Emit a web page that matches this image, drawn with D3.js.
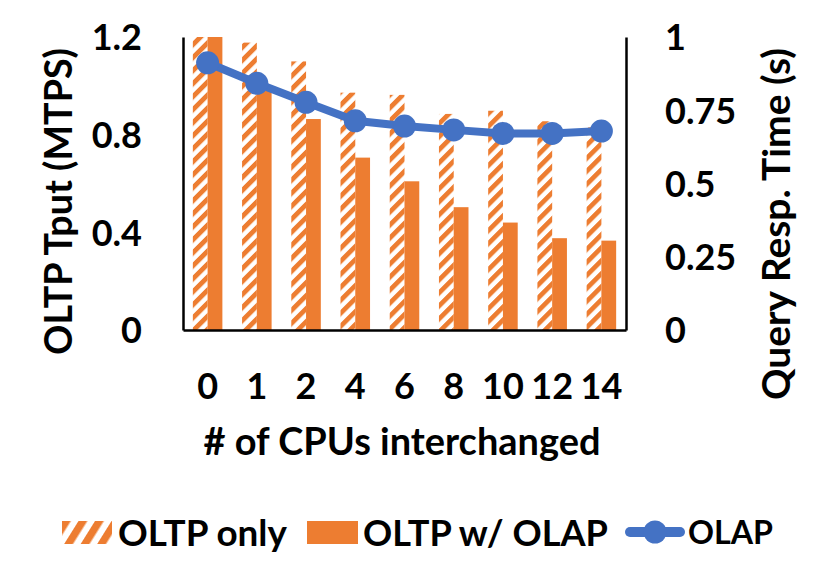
<!DOCTYPE html>
<html>
<head>
<meta charset="utf-8">
<script src="https://cdn.jsdelivr.net/npm/d3@7"></script>
<style>
  html, body { margin: 0; padding: 0; background: #fff; }
  svg { display: block; }
  text { font-family: Lato, "Open Sans", "DejaVu Sans", sans-serif; font-weight: 700; fill: #000; }
</style>
</head>
<body>
<svg id="chart" width="830" height="581"></svg>
<script>
// ---- data ----
const categories = ["0", "1", "2", "4", "6", "8", "10", "12", "14"];
const oltpOnly   = [1.2, 1.177, 1.10, 0.972, 0.963, 0.885, 0.898, 0.855, 0.83];
const oltpWOlap  = [1.2, 0.98, 0.864, 0.706, 0.609, 0.503, 0.44, 0.376, 0.366];
const olap       = [0.912, 0.842, 0.777, 0.714, 0.696, 0.683, 0.671, 0.671, 0.679];
const leftTicks  = [0, 0.4, 0.8, 1.2];
const rightTicks = [0, 0.25, 0.5, 0.75, 1];
const seriesNames = ["OLTP only", "OLTP w/ OLAP", "OLAP"];

const ORANGE = "#ED7D31", BLUE = "#4472C4";

const svg = d3.select("#chart");
const plot = { left: 183, right: 626, top: 37, bottom: 330 };

const x = d3.scaleBand().domain(categories).range([plot.left, plot.right]).paddingInner(0).paddingOuter(0);
const yL = d3.scaleLinear().domain([0, 1.2]).range([plot.bottom, plot.top]);
const yR = d3.scaleLinear().domain([0, 1]).range([plot.bottom, plot.top]);

// ---- patterns ----
const defs = svg.append("defs");
const P = 9.2;
const pat = defs.append("pattern").attr("id", "hatch")
  .attr("patternUnits", "userSpaceOnUse").attr("width", P).attr("height", P)
  .attr("patternTransform", "rotate(45)");
pat.append("rect").attr("width", P).attr("height", P).attr("fill", "#fff");
pat.append("rect").attr("width", P * 0.52).attr("height", P).attr("fill", ORANGE);

const patL = defs.append("pattern").attr("id", "hatchLegend")
  .attr("patternUnits", "userSpaceOnUse").attr("width", 14).attr("height", 14)
  .attr("patternTransform", "translate(62,521) rotate(32)");
patL.append("rect").attr("width", 14).attr("height", 14).attr("fill", "#fff");
patL.append("rect").attr("width", 7.5).attr("height", 14).attr("fill", ORANGE);

// ---- bars ----
const bw = x.bandwidth();
const barW = bw * 0.3;
const groupOff = (bw - 2 * barW) / 2;

svg.append("g").selectAll("rect").data(categories).join("rect")
  .attr("x", d => x(d) + groupOff)
  .attr("y", (d, i) => yL(Math.min(oltpOnly[i], 1.2)))
  .attr("width", barW)
  .attr("height", (d, i) => yL(0) - yL(Math.min(oltpOnly[i], 1.2)))
  .attr("fill", "url(#hatch)");

svg.append("g").selectAll("rect").data(categories).join("rect")
  .attr("x", d => x(d) + groupOff + barW)
  .attr("y", (d, i) => yL(Math.min(oltpWOlap[i], 1.2)))
  .attr("width", barW)
  .attr("height", (d, i) => yL(0) - yL(Math.min(oltpWOlap[i], 1.2)))
  .attr("fill", ORANGE);

// ---- axes ----
const axL = svg.append("g").attr("transform", `translate(${plot.left},0)`)
  .call(d3.axisLeft(yL).tickValues(leftTicks).tickSize(0).tickFormat(d3.format("")));
const axR = svg.append("g").attr("transform", `translate(${plot.right},0)`)
  .call(d3.axisRight(yR).tickValues(rightTicks).tickSize(0).tickFormat(d3.format("")));
const axB = svg.append("g").attr("transform", `translate(0,${plot.bottom})`)
  .call(d3.axisBottom(x).tickSize(0));

[axL, axR, axB].forEach(a => {
  a.select(".domain").attr("stroke", "#000").attr("stroke-width", 2.5);
  a.selectAll("text").attr("font-size", 36).attr("font-family", null).attr("fill", "#000");
});
axL.selectAll(".tick text").attr("x", 142 - plot.left).attr("dy", "0.36em").attr("text-anchor", "end");
axR.selectAll(".tick text").attr("x", 665 - plot.right).attr("dy", "0.36em").attr("text-anchor", "start");
axB.selectAll(".tick text").attr("y", 386 - plot.bottom).attr("dy", "0.36em");

// ---- line ----
const line = d3.line().x((d, i) => x(categories[i]) + bw / 2).y(d => yR(d));
svg.append("path").datum(olap).attr("d", line)
  .attr("fill", "none").attr("stroke", BLUE).attr("stroke-width", 8).attr("stroke-linejoin", "round");
svg.append("g").selectAll("circle").data(olap).join("circle")
  .attr("cx", (d, i) => x(categories[i]) + bw / 2)
  .attr("cy", d => yR(d))
  .attr("r", 11.5)
  .attr("fill", BLUE);

// ---- titles ----
function fit(sel, w) {
  const fs = parseFloat(sel.attr("font-size"));
  const L = sel.node().getComputedTextLength();
  if (L > 0) sel.attr("font-size", fs * w / L);
  return sel;
}
fit(svg.append("text").attr("x", 402).attr("y", 441).attr("dy", "0.36em")
  .attr("text-anchor", "middle").attr("font-size", 38).text("# of CPUs interchanged"), 397);
fit(svg.append("text").attr("transform", "translate(58.5,201.5) rotate(-90)").attr("dy", "0.36em")
  .attr("text-anchor", "middle").attr("font-size", 38).text("OLTP Tput (MTPS)"), 307);
fit(svg.append("text").attr("transform", "translate(776,224) rotate(-90)").attr("dy", "0.36em")
  .attr("text-anchor", "middle").attr("font-size", 38).text("Query Resp. Time (s)"), 352);

// ---- legend ----
const lg = svg.append("g");
lg.append("rect").attr("x", 62).attr("y", 521).attr("width", 50).attr("height", 23).attr("fill", "url(#hatchLegend)");
fit(lg.append("text").attr("x", 118).attr("y", 532.5).attr("dy", "0.36em").attr("font-size", 36).text(seriesNames[0]), 169);
lg.append("rect").attr("x", 307).attr("y", 521).attr("width", 51).attr("height", 23).attr("fill", ORANGE);
fit(lg.append("text").attr("x", 363).attr("y", 532.5).attr("dy", "0.36em").attr("font-size", 36).text(seriesNames[1]), 245);
lg.append("line").attr("x1", 630).attr("x2", 680).attr("y1", 532).attr("y2", 532)
  .attr("stroke", BLUE).attr("stroke-width", 10).attr("stroke-linecap", "round");
lg.append("circle").attr("cx", 655).attr("cy", 532).attr("r", 11.5).attr("fill", BLUE);
fit(lg.append("text").attr("x", 688).attr("y", 532.5).attr("dy", "0.36em").attr("font-size", 36).text(seriesNames[2]), 85);
</script>
</body>
</html>
